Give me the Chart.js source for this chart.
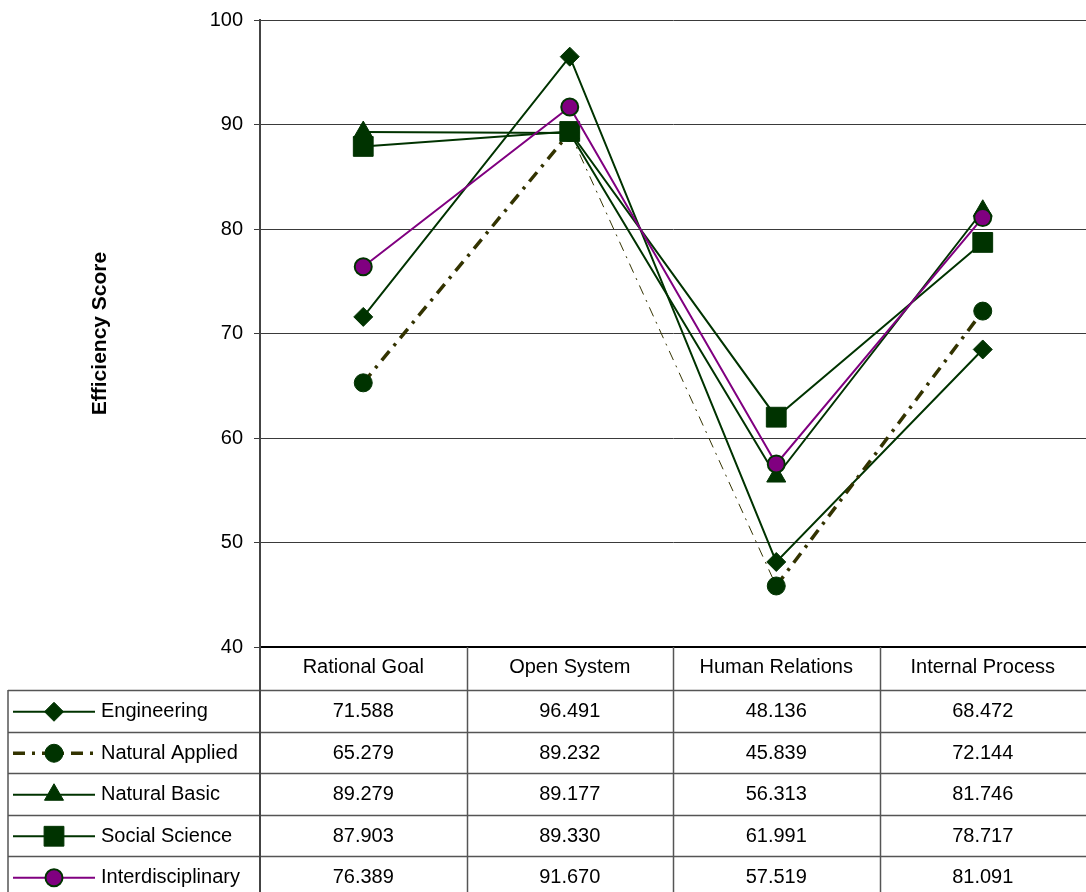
<!DOCTYPE html>
<html>
<head>
<meta charset="utf-8">
<title>Efficiency Score by Discipline</title>
<script src="https://cdn.jsdelivr.net/npm/chart.js@4.4.1/dist/chart.umd.min.js"></script>
<style>
  html, body { margin: 0; padding: 0; background: #fff; }
  #wrap { width: 1086px; height: 892px; }
</style>
</head>
<body>
<div id="wrap"><canvas id="c" width="1086" height="892"></canvas></div>
<script>
// Competing-values quadrants shown along the x axis
const categories = ['Rational Goal', 'Open System', 'Human Relations', 'Internal Process'];

// Efficiency score per discipline group
const engineering     = [71.588, 96.491, 48.136, 68.472];
const naturalApplied  = [65.279, 89.232, 45.839, 72.144];
const naturalBasic    = [89.279, 89.177, 56.313, 81.746];
const socialScience   = [87.903, 89.330, 61.991, 78.717];
const interdisciplinary = [76.389, 91.670, 57.519, 81.091];

const seriesNames = ['Engineering', 'Natural Applied', 'Natural Basic', 'Social Science', 'Interdisciplinary'];

const yTicks = [40, 50, 60, 70, 80, 90, 100];

const GREEN = '#003300';
const OLIVE = '#333300';
const PURPLE = '#800080';
const FONT = '"Liberation Sans", Arial, Helvetica, sans-serif';

const datasets = [
  {
    label: seriesNames[0], data: engineering, order: 5,
    borderColor: GREEN, borderWidth: 2,
    pointStyle: 'rectRot', pointRadius: 9.5, pointBackgroundColor: GREEN, pointBorderColor: GREEN, pointBorderWidth: 1
  },
  {
    label: seriesNames[1], data: naturalApplied, order: 4,
    borderColor: OLIVE, borderWidth: 3.5, borderDash: [12, 7, 3, 7],
    segment: {
      borderWidth: ctx => ctx.p0DataIndex === 1 ? 1 : 3.5,
      borderDash: ctx => ctx.p0DataIndex === 1 ? [10, 6, 2, 6] : [12, 7, 3, 7]
    },
    pointStyle: 'circle', pointRadius: 9, pointBackgroundColor: GREEN, pointBorderColor: GREEN, pointBorderWidth: 1
  },
  {
    label: seriesNames[2], data: naturalBasic, order: 3,
    borderColor: GREEN, borderWidth: 2,
    pointStyle: 'triangle', pointRadius: 11, pointBackgroundColor: GREEN, pointBorderColor: GREEN, pointBorderWidth: 1
  },
  {
    label: seriesNames[3], data: socialScience, order: 2,
    borderColor: GREEN, borderWidth: 2,
    pointStyle: 'rect', pointRadius: 14, pointBackgroundColor: GREEN, pointBorderColor: GREEN, pointBorderWidth: 1
  },
  {
    label: seriesNames[4], data: interdisciplinary, order: 1,
    borderColor: PURPLE, borderWidth: 2,
    pointStyle: 'circle', pointRadius: 8.5, pointBackgroundColor: PURPLE, pointBorderColor: GREEN, pointBorderWidth: 2
  }
];

// Data table under the plot: category header row plus one row per series with its key
const dataTable = {
  id: 'dataTable',
  afterDraw(chart) {
    const ctx = chart.ctx;
    const area = chart.chartArea;
    const xs = chart.scales.x;
    const n = categories.length;
    const colW = (area.right - area.left) / n;
    const tableLeft = 8;
    const headTop = area.bottom;
    const rowsTop = 690;
    const rowH = 41.5;
    const bottom = chart.height;

    ctx.save();
    ctx.strokeStyle = '#555';
    ctx.lineWidth = 1.5;

    // horizontal rules of the series rows
    for (let k = 0; k < seriesNames.length; k++) {
      const y = Math.round(rowsTop + k * rowH) + 0.5;
      ctx.beginPath();
      ctx.moveTo(tableLeft, y);
      ctx.lineTo(chart.width, y);
      ctx.stroke();
    }
    // outer left border
    ctx.beginPath();
    ctx.moveTo(tableLeft, rowsTop);
    ctx.lineTo(tableLeft, bottom);
    ctx.stroke();
    // column separators
    for (let i = 1; i < n; i++) {
      const x = Math.round(area.left + i * colW) + 0.5;
      ctx.beginPath();
      ctx.moveTo(x, headTop);
      ctx.lineTo(x, bottom);
      ctx.stroke();
    }
    // y axis continues as the key column's right edge
    ctx.strokeStyle = '#444';
    ctx.lineWidth = 2;
    ctx.beginPath();
    ctx.moveTo(area.left, headTop);
    ctx.lineTo(area.left, bottom);
    ctx.stroke();

    // values
    ctx.fillStyle = '#000';
    ctx.font = '20px ' + FONT;
    ctx.textAlign = 'center';
    ctx.textBaseline = 'middle';
    const series = [engineering, naturalApplied, naturalBasic, socialScience, interdisciplinary];
    series.forEach((vals, k) => {
      const cy = rowsTop + k * rowH + rowH / 2 + 1;
      vals.forEach((v, i) => {
        ctx.fillText(v.toFixed(3), xs.getPixelForValue(i), cy);
      });
    });

    // keys
    const drawPoint = Chart.helpers && Chart.helpers.drawPoint;
    datasets.forEach((ds, k) => {
      const cy = rowsTop + k * rowH + rowH / 2 + 1;
      ctx.save();
      ctx.strokeStyle = ds.borderColor;
      if (k === 1) {
        ctx.lineWidth = 3.5;
        ctx.setLineDash([12, 7, 3, 7]);
      } else {
        ctx.lineWidth = 2;
        ctx.setLineDash([]);
      }
      ctx.beginPath();
      ctx.moveTo(13, cy);
      ctx.lineTo(95, cy);
      ctx.stroke();
      ctx.setLineDash([]);
      ctx.fillStyle = ds.pointBackgroundColor;
      ctx.strokeStyle = ds.pointBorderColor;
      ctx.lineWidth = ds.pointBorderWidth;
      if (drawPoint) {
        drawPoint(ctx, {
          pointStyle: ds.pointStyle, radius: ds.pointRadius,
          rotation: 0, borderWidth: ds.pointBorderWidth
        }, 54, cy);
      }
      ctx.restore();
      ctx.fillStyle = '#000';
      ctx.font = '20px ' + FONT;
      ctx.textAlign = 'left';
      ctx.textBaseline = 'middle';
      ctx.fillText(ds.label, 101, cy);
    });
    ctx.restore();
  }
};

new Chart(document.getElementById('c'), {
  type: 'line',
  data: { labels: categories, datasets },
  options: {
    responsive: false,
    devicePixelRatio: 1,
    animation: false,
    layout: { autoPadding: false, padding: { left: 0, top: 20, right: 0, bottom: 0 } },
    plugins: { legend: { display: false }, tooltip: { enabled: false } },
    elements: { line: { tension: 0 } },
    scales: {
      x: {
        type: 'category',
        offset: true,
        grid: { display: false, drawTicks: false },
        border: { display: true, color: '#000', width: 2 },
        ticks: { color: '#000', font: { family: FONT, size: 20 }, padding: 8, maxRotation: 0 },
        afterFit(scale) {
          scale.height = 245;
          scale.paddingLeft = 0;
          scale.paddingRight = 0;
        }
      },
      y: {
        min: 40, max: 100,
        afterBuildTicks(scale) { scale.ticks = yTicks.map(v => ({ value: v })); },
        ticks: { color: '#000', font: { family: FONT, size: 20 }, padding: 11 },
        grid: { color: '#3a3a3a', lineWidth: 1, tickLength: 6, drawTicks: true },
        border: { display: true, color: '#444', width: 2 },
        title: {
          display: true, text: 'Efficiency Score', color: '#000',
          font: { family: FONT, size: 21, weight: 'bold' },
          padding: { top: 88, bottom: 0 }
        },
        afterFit(scale) {
          scale.width = 260;
          scale.paddingTop = 0;
          scale.paddingBottom = 0;
        }
      }
    }
  },
  plugins: [dataTable]
});
</script>
</body>
</html>
